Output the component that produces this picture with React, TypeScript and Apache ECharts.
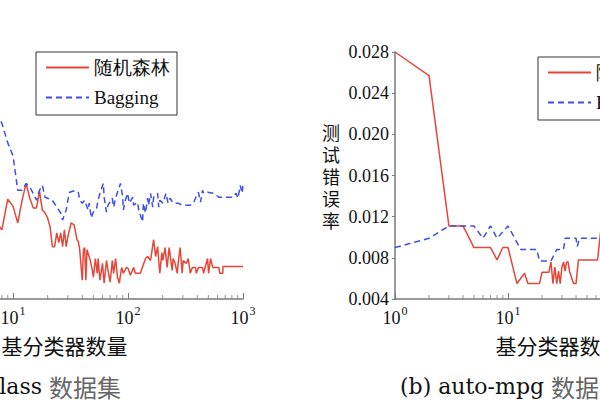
import React, { useEffect, useRef } from 'react';
import * as echarts from 'echarts';

const seriesNames = ['随机森林', 'Bagging'];
const xAxisName = '基分类器数量';
const yAxisName = '测试错误率';
const captionHeads = ['(a) glass ', '(b) auto-mpg '];
const captionTail = '数据集';

// glass dataset (left panel, y axis lies outside the picture)
const glassRF: [number, number][] = [
  [7, 0.279], [8, 0.27], [9, 0.301], [10, 0.294], [11, 0.277], [12, 0.3], [13, 0.317], [14, 0.302],
  [15, 0.292], [16, 0.292], [17, 0.309], [18, 0.29], [19, 0.287], [20, 0.282], [21, 0.273], [22, 0.253],
  [23, 0.253], [24, 0.267], [25, 0.257], [26, 0.267], [27, 0.253], [28, 0.27], [29, 0.253], [30, 0.263],
  [31, 0.27], [32, 0.277], [34, 0.275], [36, 0.26], [37, 0.258], [38, 0.25], [40, 0.219], [41, 0.25],
  [42, 0.252], [43, 0.219], [44, 0.25], [47, 0.239], [49, 0.229], [50, 0.222], [52, 0.241], [54, 0.226],
  [55, 0.241], [57, 0.219], [60, 0.236], [62, 0.216], [65, 0.239], [67, 0.229], [70, 0.217], [73, 0.239],
  [75, 0.226], [78, 0.241], [81, 0.222], [84, 0.216], [88, 0.232], [91, 0.226], [97, 0.232], [100, 0.231],
  [105, 0.224], [112, 0.232], [116, 0.226], [128, 0.226], [142, 0.241], [148, 0.243], [157, 0.239],
  [167, 0.26], [174, 0.243], [181, 0.253], [185, 0.239], [189, 0.226], [197, 0.247], [201, 0.239],
  [210, 0.252], [219, 0.232], [228, 0.252], [242, 0.229], [247, 0.241], [257, 0.236], [268, 0.226],
  [273, 0.236], [284, 0.252], [296, 0.226], [302, 0.239], [321, 0.236], [334, 0.241], [348, 0.226],
  [363, 0.232], [386, 0.232], [393, 0.226], [410, 0.232], [445, 0.232], [454, 0.226], [492, 0.241],
  [502, 0.226], [523, 0.241], [545, 0.232], [616, 0.232], [628, 0.226], [667, 0.226], [670, 0.233],
  [1000, 0.233],
];
const glassBag: [number, number][] = [
  [7, 0.388], [8, 0.378], [9, 0.358], [10, 0.345], [11, 0.31], [12, 0.31], [13, 0.317], [14, 0.313],
  [15, 0.307], [16, 0.3], [17, 0.31], [18, 0.315], [19, 0.303], [20, 0.302], [22, 0.3], [24, 0.293],
  [26, 0.287], [27, 0.28], [29, 0.29], [30, 0.3], [31, 0.308], [35, 0.31], [37, 0.308], [38, 0.3],
  [40, 0.297], [42, 0.3], [45, 0.29], [46, 0.297], [48, 0.282], [50, 0.288], [53, 0.29], [55, 0.3],
  [57, 0.307], [61, 0.317], [62, 0.303], [65, 0.288], [67, 0.295], [73, 0.302], [75, 0.293], [78, 0.302],
  [81, 0.308], [86, 0.317], [90, 0.303], [91, 0.29], [95, 0.3], [99, 0.307], [103, 0.297], [110, 0.303],
  [112, 0.295], [121, 0.298], [124, 0.29], [128, 0.285], [134, 0.278], [136, 0.297], [142, 0.287],
  [148, 0.302], [151, 0.295], [157, 0.307], [164, 0.293], [167, 0.303], [181, 0.307], [185, 0.293],
  [189, 0.3], [201, 0.297], [214, 0.307], [223, 0.297], [232, 0.302], [247, 0.297], [273, 0.297],
  [296, 0.295], [348, 0.295], [370, 0.297], [386, 0.302], [402, 0.307], [410, 0.308], [427, 0.298],
  [445, 0.31], [454, 0.307], [492, 0.308], [556, 0.307], [616, 0.303], [819, 0.303], [870, 0.307],
  [906, 0.302], [945, 0.315], [985, 0.307], [1000, 0.317],
];

// auto-mpg dataset (right panel)
const mpgRF: [number, number][] = [
  [1, 0.028], [2, 0.0257], [3, 0.0111], [4, 0.0111], [5, 0.009], [7, 0.009], [8, 0.0078], [9, 0.009],
  [10, 0.009], [12, 0.0055], [14, 0.0065], [15, 0.0055], [19, 0.0055], [20, 0.0066], [23, 0.0066],
  [24, 0.0076], [25, 0.0055], [26, 0.0071], [27, 0.0055], [28, 0.0067], [29, 0.0055], [30, 0.0071],
  [31, 0.0076], [32, 0.0067], [33, 0.0076], [34, 0.0076], [35, 0.0067], [38, 0.0055], [40, 0.0055],
  [42, 0.0078], [62, 0.0078], [66, 0.0105],
];
const mpgBag: [number, number][] = [
  [1, 0.009], [2, 0.0099], [3, 0.0111], [5, 0.0111], [6, 0.0099], [7, 0.0111], [8, 0.0099], [10, 0.0111],
  [13, 0.0088], [18, 0.0088], [19, 0.0077], [24, 0.0077], [27, 0.0088], [31, 0.0088], [32, 0.0099],
  [40, 0.0099], [41, 0.0091], [43, 0.0099], [70, 0.0099],
];

const minorTickValues = [2, 3, 4, 5, 6, 7, 8, 9, 20, 30, 40, 50, 60, 70, 80, 90, 200, 300, 400, 500, 600, 700, 800, 900];

const glassYMin = 0.2;
const glassYMax = 0.45;
const mpgYMin = 0.004;
const mpgYMax = 0.028;
const mpgYStep = 0.004;

// The figure is a crop of a wider page: the canvas is wider than the window and shifted left.
const OFFSET = 110;
const CANVAS_W = 850;

const serif = 'Liberation Serif';
const capSerif = 'DejaVu Serif';
const cjk = 'Noto Sans CJK SC';
const axisGray = '#7a7a7a';
const red = '#e4473a';
const blue = '#3f4fe6';

function xAxis(gridIndex: number) {
  return {
    type: 'log',
    logBase: 10,
    min: 1,
    max: 1000,
    gridIndex,
    axisLine: { show: true, lineStyle: { color: axisGray, width: 1.5 } },
    axisTick: { show: true, inside: true, length: 6, lineStyle: { color: axisGray, width: 1 } },
    splitLine: { show: false },
    axisLabel: {
      margin: 6,
      formatter: (v: number) => `{b|10}{s|${Math.round(Math.log10(v))}}`,
      rich: {
        b: { fontFamily: serif, fontSize: 18, color: '#111', lineHeight: 22, verticalAlign: 'bottom' },
        s: { fontFamily: serif, fontSize: 12, color: '#111', lineHeight: 22, verticalAlign: 'top', padding: [0, 0, 0, 1] },
      },
    },
    name: xAxisName,
    nameLocation: 'middle',
    nameGap: 35,
    nameTextStyle: { fontFamily: cjk, fontSize: 21, color: '#111', padding: [0, 12, 0, 0] },
  };
}

function legend(left: number, top: number) {
  return {
    data: seriesNames,
    left,
    top,
    orient: 'vertical',
    itemWidth: 43,
    itemHeight: 14,
    itemGap: 11,
    padding: [6, 7, 8, 9],
    borderColor: '#333',
    borderWidth: 1,
    backgroundColor: '#fff',
    itemStyle: { opacity: 0 },
    textStyle: { fontFamily: serif, fontSize: 19, color: '#111' },
  };
}

function lineSeries(name: string, data: [number, number][], idx: number, dashed: boolean) {
  return {
    type: 'line',
    name,
    data,
    xAxisIndex: idx,
    yAxisIndex: idx,
    showSymbol: false,
    symbol: 'none',
    lineStyle: { color: dashed ? blue : red, width: 1.5, type: dashed ? [6, 4] : 'solid' },
    itemStyle: { color: dashed ? blue : red },
    silent: true,
  };
}

function minorTicks(idx: number, yMin: number) {
  return {
    type: 'scatter',
    xAxisIndex: idx,
    yAxisIndex: idx,
    data: minorTickValues.map((n) => [n, yMin]),
    symbol: 'rect',
    symbolSize: [1, 4],
    symbolOffset: [0, -2],
    itemStyle: { color: axisGray },
    clip: false,
    silent: true,
  };
}

const captionRich = {
  a: { fontFamily: capSerif, fontSize: 22, fill: '#111', color: '#111' },
  c: { fontFamily: cjk, fontSize: 24, fill: '#666', color: '#666' },
};

const option = {
  animation: false,
  backgroundColor: '#fff',
  grid: [
    { left: -102 + OFFSET, right: CANVAS_W - (243 + OFFSET), top: 52, bottom: 101, outerBoundsMode: 'none' },
    { left: 395 + OFFSET, right: CANVAS_W - (734 + OFFSET), top: 52, bottom: 101, outerBoundsMode: 'none' },
  ],
  xAxis: [xAxis(0), xAxis(1)],
  yAxis: [
    { type: 'value', gridIndex: 0, min: glassYMin, max: glassYMax, show: false, splitLine: { show: false } },
    {
      type: 'value',
      gridIndex: 1,
      min: mpgYMin,
      max: mpgYMax,
      interval: mpgYStep,
      axisLine: { show: true, lineStyle: { color: axisGray, width: 1.5 } },
      axisTick: { show: true, length: 3, lineStyle: { color: axisGray } },
      splitLine: { show: false },
      axisLabel: {
        margin: 6,
        fontFamily: serif,
        fontSize: 18,
        color: '#111',
        formatter: (v: number) => v.toFixed(3),
      },
      name: yAxisName.split('').join('\n'),
      nameLocation: 'middle',
      nameRotate: 0,
      nameGap: 55,
      nameTextStyle: { fontFamily: cjk, fontSize: 18, lineHeight: 22, color: '#111' },
    },
  ],
  legend: [legend(36 + OFFSET, 52), legend(538 + OFFSET, 57)],
  series: [
    lineSeries(seriesNames[0], glassRF, 0, false),
    lineSeries(seriesNames[1], glassBag, 0, true),
    lineSeries(seriesNames[0], mpgRF, 1, false),
    lineSeries(seriesNames[1], mpgBag, 1, true),
    minorTicks(0, glassYMin),
    minorTicks(1, mpgYMin),
  ],
  graphic: [
    {
      type: 'text',
      x: 121 + OFFSET,
      y: 386,
      style: {
        text: `{a|${captionHeads[0]}}{c|${captionTail}}`,
        textAlign: 'right',
        align: 'right',
        textVerticalAlign: 'middle',
        verticalAlign: 'middle',
        rich: captionRich,
      },
    },
    {
      type: 'text',
      x: 400 + OFFSET,
      y: 386,
      style: {
        text: `{a|${captionHeads[1]}}{c|${captionTail}}`,
        textAlign: 'left',
        align: 'left',
        textVerticalAlign: 'middle',
        verticalAlign: 'middle',
        rich: captionRich,
      },
    },
  ],
};

export default function App() {
  const ref = useRef<HTMLDivElement>(null);
  useEffect(() => {
    const chart = echarts.init(ref.current!, null, { renderer: 'svg' });
    chart.setOption(option as any);
    return () => chart.dispose();
  }, []);
  return (
    <div style={{ position: 'fixed', left: 0, top: 0, width: 600, height: 400, overflow: 'hidden', background: '#fff' }}>
      <div
        ref={ref}
        style={{ position: 'absolute', left: -OFFSET, top: 0, width: CANVAS_W, height: 400 }}
      />
    </div>
  );
}
